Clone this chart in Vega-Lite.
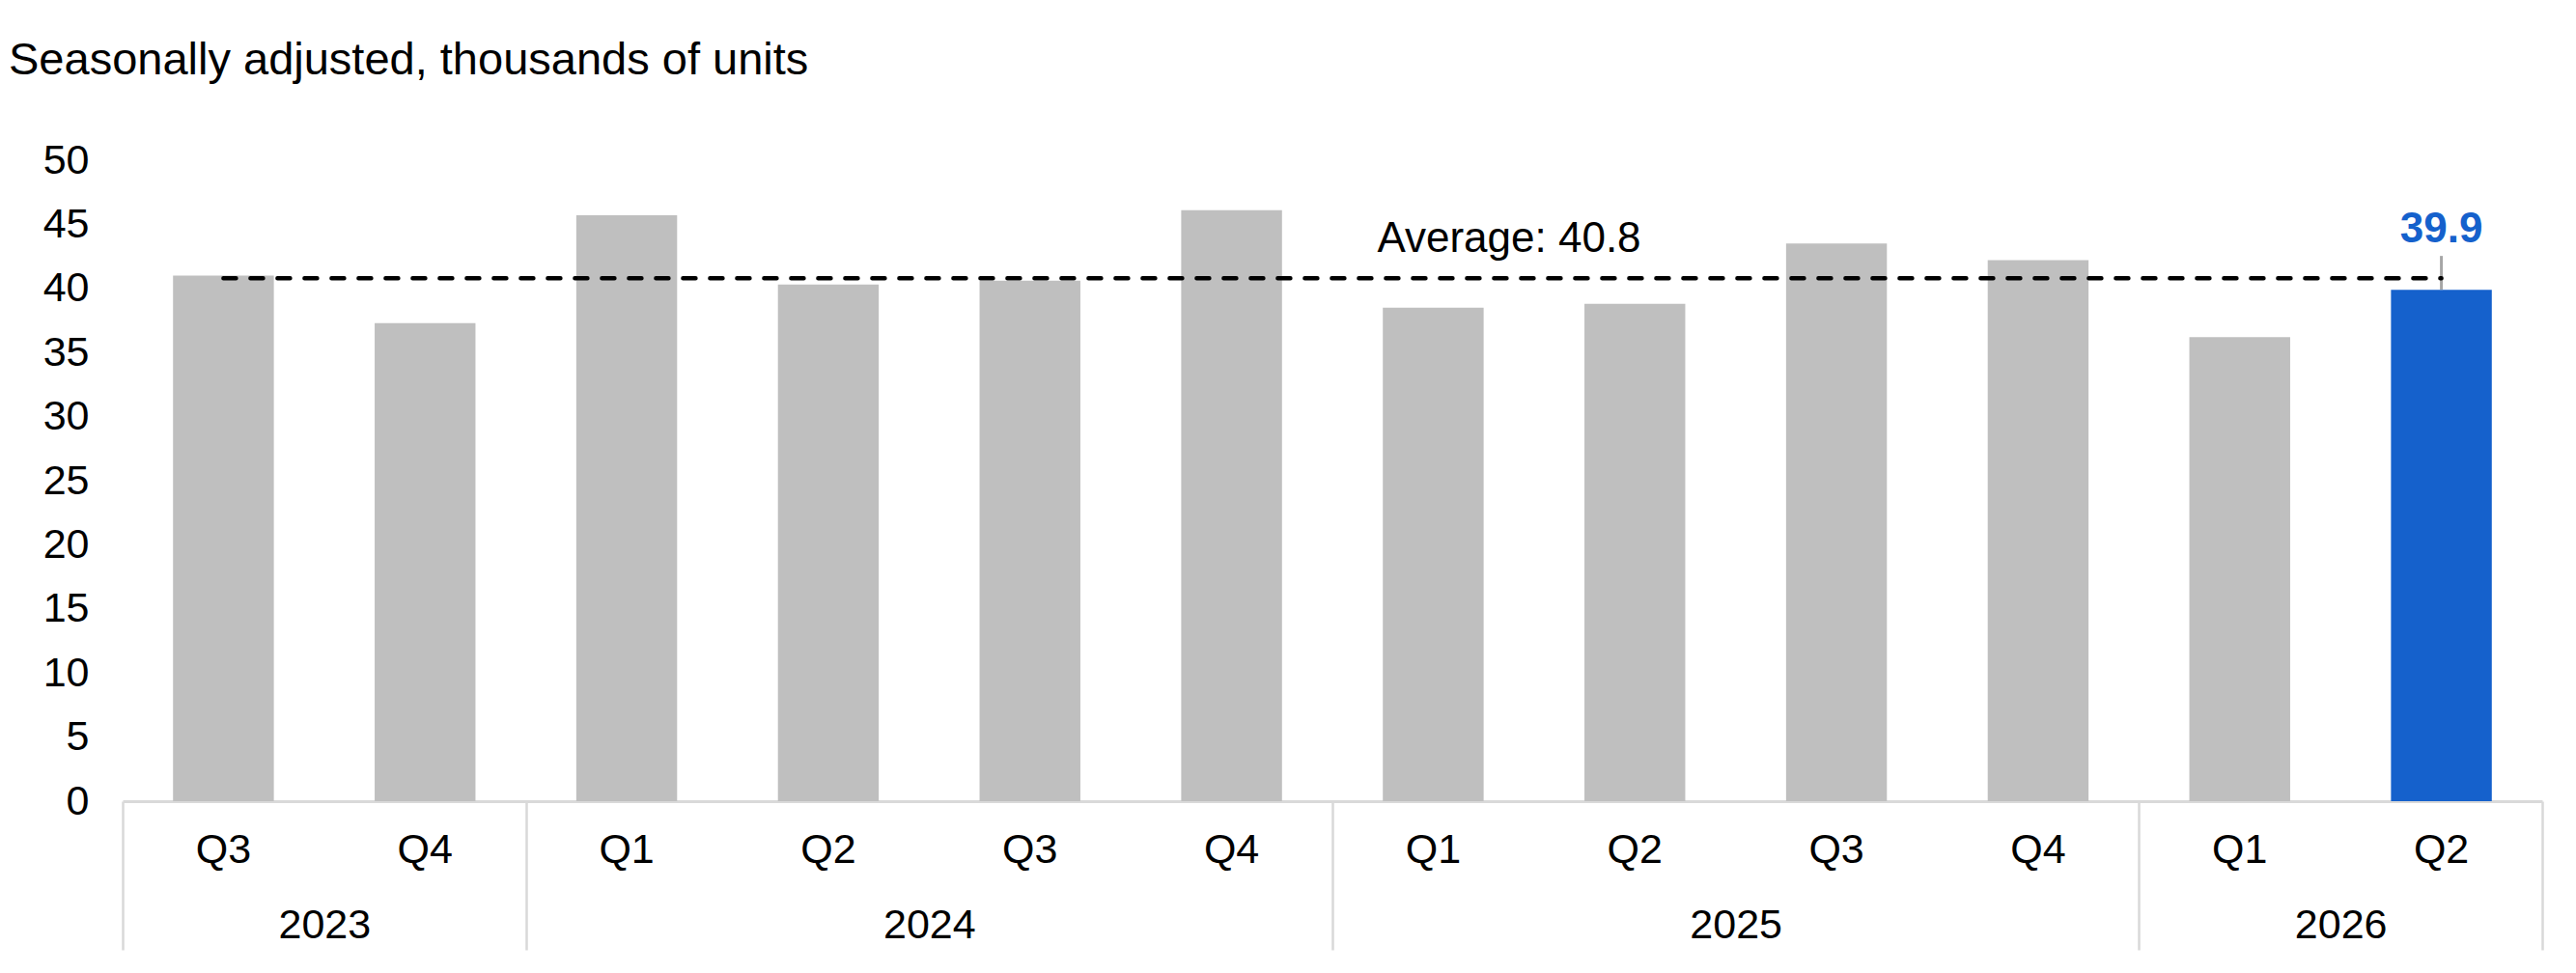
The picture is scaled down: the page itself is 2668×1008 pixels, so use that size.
{
  "$schema": "https://vega.github.io/schema/vega-lite/v6.json",
  "width": 2506,
  "height": 664,
  "autosize": {"type": "pad"},
  "padding": {"left": 9, "top": 39, "right": 35, "bottom": 10},
  "background": "#ffffff",
  "config": {
    "font": "Liberation Sans",
    "view": {"stroke": null}
  },
  "title": {
    "text": "Seasonally adjusted, thousands of units",
    "anchor": "start",
    "frame": "bounds",
    "fontSize": 47,
    "fontWeight": "normal",
    "color": "#000000",
    "offset": 58
  },
  "data": {
    "values": [
      {"period": "2023 Q3", "value": 41.0},
      {"period": "2023 Q4", "value": 37.3},
      {"period": "2024 Q1", "value": 45.7},
      {"period": "2024 Q2", "value": 40.3},
      {"period": "2024 Q3", "value": 40.6},
      {"period": "2024 Q4", "value": 46.1},
      {"period": "2025 Q1", "value": 38.5},
      {"period": "2025 Q2", "value": 38.8},
      {"period": "2025 Q3", "value": 43.5},
      {"period": "2025 Q4", "value": 42.2},
      {"period": "2026 Q1", "value": 36.2},
      {"period": "2026 Q2", "value": 39.9}
    ]
  },
  "layer": [
    {
      "mark": {"type": "bar", "width": {"band": 0.5}},
      "encoding": {
        "x": {
          "field": "period",
          "type": "nominal",
          "scale": {"paddingInner": 0, "paddingOuter": 0},
          "axis": {
            "orient": "bottom",
            "title": null,
            "labelExpr": "slice(datum.value, 5)",
            "labelAngle": 0,
            "ticks": false,
            "domainColor": "#D9D9D9",
            "domainWidth": 3,
            "labelFontSize": 43,
            "labelColor": "#000000",
            "labelPadding": 29
          }
        },
        "y": {
          "field": "value",
          "type": "quantitative",
          "scale": {"domain": [0, 50], "nice": false},
          "axis": {
            "title": null,
            "values": [0, 5, 10, 15, 20, 25, 30, 35, 40, 45, 50],
            "domain": false,
            "ticks": false,
            "grid": false,
            "labelFontSize": 43,
            "labelColor": "#000000",
            "labelPadding": 35,
            "minExtent": 118
          }
        },
        "color": {
          "condition": {"test": "datum.period == '2026 Q2'", "value": "#1561CC"},
          "value": "#BFBFBF"
        }
      }
    },
    {
      "transform": [{"filter": "datum.period == '2026 Q2'"}],
      "mark": {"type": "rule", "color": "#A6A6A6", "strokeWidth": 3, "y2Offset": -35},
      "encoding": {
        "x": {"field": "period", "type": "nominal", "axis": null},
        "y": {"field": "value", "type": "quantitative"},
        "y2": {"field": "value"}
      }
    },
    {
      "data": {"values": [{"average": 40.8, "label": "Average:  40.8"}]},
      "mark": {
        "type": "rule",
        "color": "#000000",
        "strokeWidth": 4.5,
        "strokeDash": [13, 15],
        "strokeCap": "round"
      },
      "encoding": {
        "x": {"datum": "2023 Q3", "type": "nominal", "axis": null},
        "x2": {"datum": "2026 Q2"},
        "y": {"field": "average", "type": "quantitative"}
      }
    },
    {
      "data": {"values": [{"average": 40.8, "label": "Average:  40.8"}]},
      "mark": {
        "type": "text",
        "align": "left",
        "baseline": "middle",
        "dx": -58,
        "dy": -40,
        "fontSize": 44,
        "color": "#000000"
      },
      "encoding": {
        "x": {"datum": "2025 Q1", "type": "nominal", "axis": null},
        "y": {"field": "average", "type": "quantitative"},
        "text": {"field": "label"}
      }
    },
    {
      "transform": [{"filter": "datum.period == '2026 Q2'"}],
      "mark": {
        "type": "text",
        "baseline": "middle",
        "dy": -62,
        "fontSize": 44,
        "fontWeight": "bold",
        "color": "#1561CC"
      },
      "encoding": {
        "x": {
          "field": "period",
          "type": "nominal",
          "axis": {
            "orient": "bottom",
            "title": null,
            "domain": false,
            "tickBand": "extent",
            "tickSize": 154,
            "tickWidth": 2.5,
            "tickColor": "#D9D9D9",
            "tickOpacity": {
              "condition": {"test": "datum.extra || indexof(datum.value, 'Q4') >= 0 || datum.value == '2026 Q2'", "value": 1},
              "value": 0
            },
            "labelExpr": "datum.value == '2023 Q3' || datum.value == '2024 Q2' || datum.value == '2025 Q2' || datum.value == '2026 Q1' ? slice(datum.value, 0, 4) : ''",
            "labelOffset": 104.4,
            "labelPadding": -47,
            "labelAngle": 0,
            "labelFontSize": 43,
            "labelColor": "#000000",
            "labelOverlap": false,
            "labelFlush": false
          }
        },
        "y": {"field": "value", "type": "quantitative"},
        "text": {"field": "value", "format": ".1f"}
      }
    }
  ],
  "resolve": {"axis": {"x": "independent"}}
}
